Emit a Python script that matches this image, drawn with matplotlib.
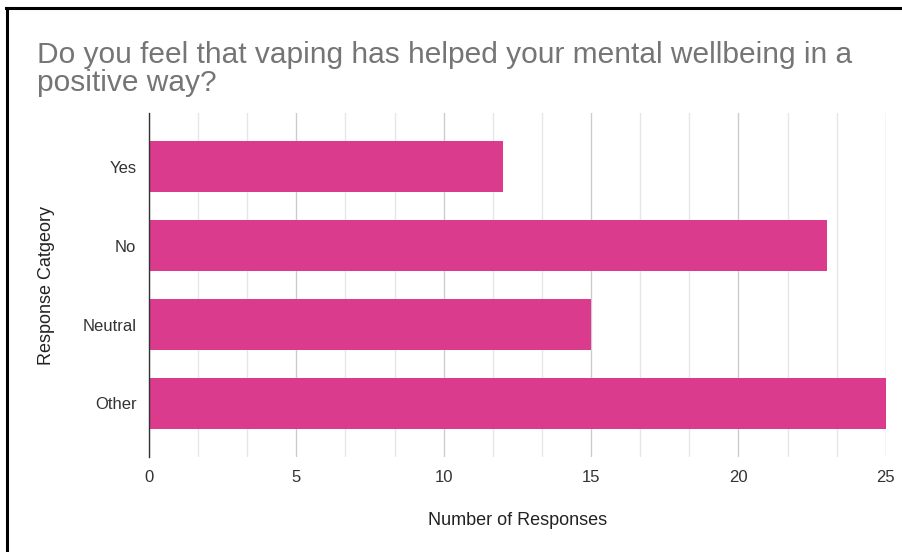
import matplotlib.pyplot as plt
import numpy as np
from matplotlib.lines import Line2D

plt.rcParams['font.family'] = ['Liberation Sans', 'DejaVu Sans']

categories = ['Yes', 'No', 'Neutral', 'Other']
responses = [12, 23, 15, 25]
xticks = [0, 5, 10, 15, 20, 25]

fig = plt.figure(figsize=(9.03, 5.52), dpi=100)
ax = fig.add_axes([0.165, 0.172, 0.816, 0.623])

y = np.arange(len(categories))
ax.barh(y, responses, height=0.65, color='#db3b8d', zorder=3)

ax.set_xlim(0, 25)
ax.set_ylim(3.68, -0.68)
ax.set_yticks(y)
ax.set_yticklabels(categories)
ax.set_xticks(xticks)
ax.set_xticks(np.arange(0, 25, 5 / 3), minor=True)

ax.grid(axis='x', which='major', color='#cccccc', linewidth=1, zorder=0)
ax.grid(axis='x', which='minor', color='#e6e6e6', linewidth=1, zorder=0)
ax.tick_params(axis='both', which='both', length=0, labelsize=12, labelcolor='#333333')
ax.tick_params(axis='x', pad=9)
ax.tick_params(axis='y', pad=9)

for s in ['top', 'right', 'bottom']:
    ax.spines[s].set_visible(False)
ax.spines['left'].set_color('#333333')
ax.spines['left'].set_linewidth(1)
ax.spines['left'].set_zorder(4)

ax.set_xlabel('Number of Responses', fontsize=13, color='#222222', labelpad=20)
ax.set_ylabel('Response Catgeory', fontsize=13, color='#222222', labelpad=20)

fig.text(0.041, 0.835, 'Do you feel that vaping has helped your mental wellbeing in a\npositive way?',
         fontsize=21.5, color='#757575', linespacing=1.0)

# frame lines top and left
fig.add_artist(Line2D([0.007, 1], [0.985, 0.985], color='black', linewidth=2.2, transform=fig.transFigure))
fig.add_artist(Line2D([0.008, 0.008], [0, 0.985], color='black', linewidth=2.2, transform=fig.transFigure))

fig.savefig('out.png', dpi=100)
